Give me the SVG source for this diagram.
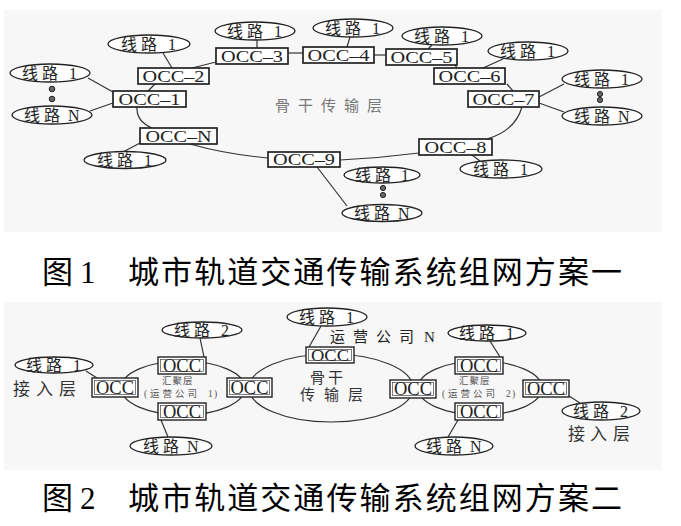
<svg xmlns="http://www.w3.org/2000/svg" width="681" height="526" viewBox="0 0 681 526">
<style>
.panel{fill:#f7f7f7;stroke:none}
.box{fill:#fff;stroke:#222;stroke-width:1.7}
.box2{fill:#fff;stroke:#222;stroke-width:1.4}
.inner{fill:none;stroke:#444;stroke-width:0.7}
.ell{fill:#fff;stroke:#222;stroke-width:1.3}
.ring{fill:none;stroke:#333;stroke-width:1.2}
.ln{fill:none;stroke:#333;stroke-width:1.2}
.dot{fill:#666;stroke:#222;stroke-width:1}
.t{font-family:"Liberation Serif","Noto Sans CJK SC",serif;fill:#222}
.m{text-anchor:middle}
.occ{font-size:16px}
.lab{font-size:16px}
.small{font-size:9.5px;fill:#555}
.layer{font-size:15px;fill:#333}
.cap{font-family:"Liberation Serif","Noto Sans CJK SC",serif;font-size:31px;fill:#000}
</style>
<rect class="panel" x="4" y="10" width="658" height="222"/>
<rect class="panel" x="4" y="302" width="658" height="168"/>

<!-- Figure 1 connectors -->
<g id="connectors1">
<line class="ln" x1="88" y1="78" x2="113" y2="92"/>
<line class="ln" x1="90" y1="111" x2="113" y2="103"/>
<line class="ln" x1="163" y1="53" x2="172" y2="68"/>
<line class="ln" x1="155" y1="84" x2="148" y2="91"/>
<line class="ln" x1="192" y1="68" x2="216" y2="62"/>
<line class="ln" x1="257" y1="48" x2="257" y2="40"/>
<line class="ln" x1="288" y1="53" x2="303" y2="53"/>
<line class="ln" x1="347" y1="47" x2="350" y2="37"/>
<line class="ln" x1="374" y1="55" x2="386" y2="55"/>
<line class="ln" x1="428" y1="49" x2="432" y2="45"/>
<line class="ln" x1="455" y1="65" x2="457" y2="68"/>
<line class="ln" x1="483" y1="68" x2="503" y2="59"/>
<line class="ln" x1="507" y1="84" x2="513" y2="91"/>
<line class="ln" x1="539" y1="97" x2="564" y2="84"/>
<line class="ln" x1="539" y1="103" x2="564" y2="112"/>
<path class="ln" d="M522,107 Q515,131 487,139"/>
<line class="ln" x1="472" y1="155" x2="480" y2="161"/>
<path class="ln" d="M419,153 Q380,158 340,160"/>
<line class="ln" x1="317" y1="167" x2="347" y2="206"/>
<path class="ln" d="M190,144 Q225,154 268,158"/>
<path class="ln" d="M137,107 Q136,121 152,128"/>
<line class="ln" x1="140" y1="143" x2="123" y2="152"/>
</g>

<!-- Figure 1 OCC nodes -->
<g id="occ1"><rect class="box" x="113" y="91" width="73" height="16"/><text class="t m occ" x="149.5" y="104.5" textLength="62" lengthAdjust="spacingAndGlyphs">OCC–1</text></g>
<g id="occ2"><rect class="box" x="138" y="68" width="71" height="16"/><text class="t m occ" x="173.5" y="81.5" textLength="62" lengthAdjust="spacingAndGlyphs">OCC–2</text></g>
<g id="occ3"><rect class="box" x="216" y="48" width="72" height="16"/><text class="t m occ" x="252" y="61.5" textLength="62" lengthAdjust="spacingAndGlyphs">OCC–3</text></g>
<g id="occ4"><rect class="box" x="303" y="47" width="71" height="16"/><text class="t m occ" x="338.5" y="60.5" textLength="62" lengthAdjust="spacingAndGlyphs">OCC–4</text></g>
<g id="occ5"><rect class="box" x="386" y="49" width="71" height="16"/><text class="t m occ" x="421.5" y="62.5" textLength="62" lengthAdjust="spacingAndGlyphs">OCC–5</text></g>
<g id="occ6"><rect class="box" x="434" y="68" width="71" height="16"/><text class="t m occ" x="469.5" y="81.5" textLength="62" lengthAdjust="spacingAndGlyphs">OCC–6</text></g>
<g id="occ7"><rect class="box" x="468" y="91" width="71" height="16"/><text class="t m occ" x="503.5" y="104.5" textLength="62" lengthAdjust="spacingAndGlyphs">OCC–7</text></g>
<g id="occ8"><rect class="box" x="419" y="139" width="73" height="16"/><text class="t m occ" x="455.5" y="152.5" textLength="62" lengthAdjust="spacingAndGlyphs">OCC–8</text></g>
<g id="occ9"><rect class="box" x="268" y="152" width="72" height="15"/><text class="t m occ" x="304" y="165" textLength="62" lengthAdjust="spacingAndGlyphs">OCC–9</text></g>
<g id="occN"><rect class="box" x="140" y="128" width="77" height="16"/><text class="t m occ" x="178.5" y="141.5" textLength="66" lengthAdjust="spacingAndGlyphs">OCC–N</text></g>

<!-- Figure 1 line nodes -->
<g id="f1-line-l1"><ellipse class="ell" cx="50" cy="73" rx="40" ry="9"/><text class="t lab" x="22 42 69" y="78.5">线路1</text></g>
<g id="f1-line-lN"><ellipse class="ell" cx="52" cy="115" rx="40" ry="9"/><text class="t lab" x="24 44 68" y="120.5">线路N</text></g>
<g id="f1-dots-l"><circle class="dot" cx="52" cy="89" r="2.8"/><circle class="dot" cx="52" cy="99" r="2.8"/></g>
<g id="f1-line-2"><ellipse class="ell" cx="149" cy="44" rx="41" ry="9"/><text class="t lab" x="121 141 168" y="49.5">线路1</text></g>
<g id="f1-line-3"><ellipse class="ell" cx="255" cy="31" rx="40" ry="9"/><text class="t lab" x="227 247 274" y="36.5">线路1</text></g>
<g id="f1-line-4"><ellipse class="ell" cx="353" cy="28" rx="40" ry="9"/><text class="t lab" x="325 345 372" y="33.5">线路1</text></g>
<g id="f1-line-5"><ellipse class="ell" cx="442" cy="36" rx="40" ry="9"/><text class="t lab" x="414 434 461" y="41.5">线路1</text></g>
<g id="f1-line-6"><ellipse class="ell" cx="528" cy="51" rx="40" ry="9"/><text class="t lab" x="500 520 547" y="56.5">线路1</text></g>
<g id="f1-line-7a"><ellipse class="ell" cx="602" cy="79" rx="40" ry="9"/><text class="t lab" x="574 594 621" y="84.5">线路1</text></g>
<g id="f1-line-7N"><ellipse class="ell" cx="602" cy="116" rx="40" ry="9"/><text class="t lab" x="574 594 618" y="121.5">线路N</text></g>
<g id="f1-dots-7"><circle class="dot" cx="600" cy="94" r="2.6"/><circle class="dot" cx="600" cy="100" r="2.6"/></g>
<g id="f1-line-8"><ellipse class="ell" cx="501" cy="169" rx="41" ry="9"/><text class="t lab" x="473 493 520" y="174.5">线路1</text></g>
<g id="f1-line-9a"><ellipse class="ell" cx="382" cy="175" rx="38" ry="8"/><text class="t lab" x="355 375 401" y="180.5">线路1</text></g>
<g id="f1-dots-9"><circle class="dot" cx="383" cy="188" r="2.6"/><circle class="dot" cx="383" cy="195" r="2.6"/></g>
<g id="f1-line-9N"><ellipse class="ell" cx="382" cy="213" rx="40" ry="8.5"/><text class="t lab" x="354 374 398" y="218.5">线路N</text></g>
<g id="f1-line-N"><ellipse class="ell" cx="125" cy="160" rx="41" ry="8.5"/><text class="t lab" x="97 117 144" y="165.5">线路1</text></g>

<text class="t" x="275 298 321 344 367" y="111" font-size="15" style="fill:#777">骨干传输层</text>

<text class="cap" x="42" y="283">图</text>
<text class="cap" x="80" y="283">1</text>
<text class="cap" x="128" y="283" textLength="494">城市轨道交通传输系统组网方案一</text>

<!-- Figure 2 rings and connectors -->
<g id="connectors2">
<ellipse class="ring" cx="183" cy="388" rx="62" ry="27"/>
<ellipse class="ring" cx="331" cy="388" rx="82" ry="34"/>
<ellipse class="ring" cx="480" cy="388" rx="62" ry="27"/>
<line class="ln" x1="86" y1="371" x2="97" y2="378"/>
<line class="ln" x1="200" y1="338" x2="204" y2="357"/>
<line class="ln" x1="161" y1="420" x2="168" y2="437"/>
<line class="ln" x1="321" y1="326" x2="309" y2="347"/>
<line class="ln" x1="490" y1="341" x2="500" y2="357"/>
<line class="ln" x1="569" y1="396" x2="580" y2="403"/>
<line class="ln" x1="458" y1="420" x2="448" y2="437"/>
</g>

<text class="t small" x="162 172.5 183" y="384">汇聚层</text>
<text class="t small" x="144 150 162.5 175 187.5 208 214" y="396.5">(运营公司1)</text>
<text class="t small" x="459 469.5 480" y="384">汇聚层</text>
<text class="t small" x="442 448 460.5 473 485.5 506 512" y="397">(运营公司2)</text>
<text class="t layer" x="310 328" y="383">骨干</text>
<text class="t layer" x="300 324 348" y="399.5">传输层</text>
<text class="t" x="330 353 376 399 424" y="342" font-size="15">运营公司N</text>
<text class="t" x="13 36 59" y="395" font-size="17" style="fill:#333">接入层</text>
<text class="t" x="568 590 613" y="440" font-size="17" style="fill:#333">接入层</text>

<g id="a-left"><rect class="box2" x="92" y="378" width="46" height="19"/><rect class="inner" x="94.5" y="380.5" width="41" height="14"/><text class="t m" x="115" y="393.5" font-size="18" textLength="38" lengthAdjust="spacingAndGlyphs">OCC</text></g>
<g id="a-top"><rect class="box2" x="158" y="357" width="48" height="17"/><rect class="inner" x="160.5" y="359.5" width="43" height="12"/><text class="t m" x="182" y="371.5" font-size="18" textLength="38" lengthAdjust="spacingAndGlyphs">OCC</text></g>
<g id="a-bot"><rect class="box2" x="158" y="403" width="48" height="17"/><rect class="inner" x="160.5" y="405.5" width="43" height="12"/><text class="t m" x="182" y="417.5" font-size="18" textLength="38" lengthAdjust="spacingAndGlyphs">OCC</text></g>
<g id="a-right"><rect class="box2" x="227" y="378" width="45" height="19"/><rect class="inner" x="229.5" y="380.5" width="40" height="14"/><text class="t m" x="249.5" y="393.5" font-size="18" textLength="38" lengthAdjust="spacingAndGlyphs">OCC</text></g>
<g id="b-top"><rect class="box2" x="306" y="347" width="48" height="16"/><rect class="inner" x="308.5" y="349.5" width="43" height="11"/><text class="t m" x="330" y="361" font-size="17" textLength="38" lengthAdjust="spacingAndGlyphs">OCC</text></g>
<g id="b-right"><rect class="box2" x="390" y="380" width="46" height="18"/><rect class="inner" x="392.5" y="382.5" width="41" height="13"/><text class="t m" x="413" y="395" font-size="18" textLength="38" lengthAdjust="spacingAndGlyphs">OCC</text></g>
<g id="c-top"><rect class="box2" x="455" y="357" width="48" height="17"/><rect class="inner" x="457.5" y="359.5" width="43" height="12"/><text class="t m" x="479" y="371.5" font-size="18" textLength="38" lengthAdjust="spacingAndGlyphs">OCC</text></g>
<g id="c-bot"><rect class="box2" x="455" y="403" width="48" height="17"/><rect class="inner" x="457.5" y="405.5" width="43" height="12"/><text class="t m" x="479" y="417.5" font-size="18" textLength="38" lengthAdjust="spacingAndGlyphs">OCC</text></g>
<g id="c-right"><rect class="box2" x="523" y="380" width="46" height="17"/><rect class="inner" x="525.5" y="382.5" width="41" height="12"/><text class="t m" x="546" y="394.5" font-size="18" textLength="38" lengthAdjust="spacingAndGlyphs">OCC</text></g>

<g id="f2-a-l1"><ellipse class="ell" cx="54" cy="365" rx="39" ry="8"/><text class="t lab" x="26 46 73" y="370.5">线路1</text></g>
<g id="f2-a-l2"><ellipse class="ell" cx="202" cy="330" rx="40" ry="8"/><text class="t lab" x="174 194 221" y="335.5">线路2</text></g>
<g id="f2-a-lN"><ellipse class="ell" cx="171" cy="446" rx="41" ry="9"/><text class="t lab" x="143 163 187" y="451.5">线路N</text></g>
<g id="f2-b-l1"><ellipse class="ell" cx="327" cy="317" rx="40" ry="9"/><text class="t lab" x="299 319 346" y="322.5">线路1</text></g>
<g id="f2-c-l1"><ellipse class="ell" cx="487" cy="333" rx="39" ry="8"/><text class="t lab" x="459 479 506" y="338.5">线路1</text></g>
<g id="f2-c-l2"><ellipse class="ell" cx="601" cy="411" rx="39" ry="9"/><text class="t lab" x="573 593 620" y="416.5">线路2</text></g>
<g id="f2-c-lN"><ellipse class="ell" cx="454" cy="446" rx="39" ry="9"/><text class="t lab" x="426 446 470" y="451.5">线路N</text></g>

<text class="cap" x="42" y="509">图</text>
<text class="cap" x="80" y="509">2</text>
<text class="cap" x="128" y="509" textLength="494">城市轨道交通传输系统组网方案二</text>
</svg>
